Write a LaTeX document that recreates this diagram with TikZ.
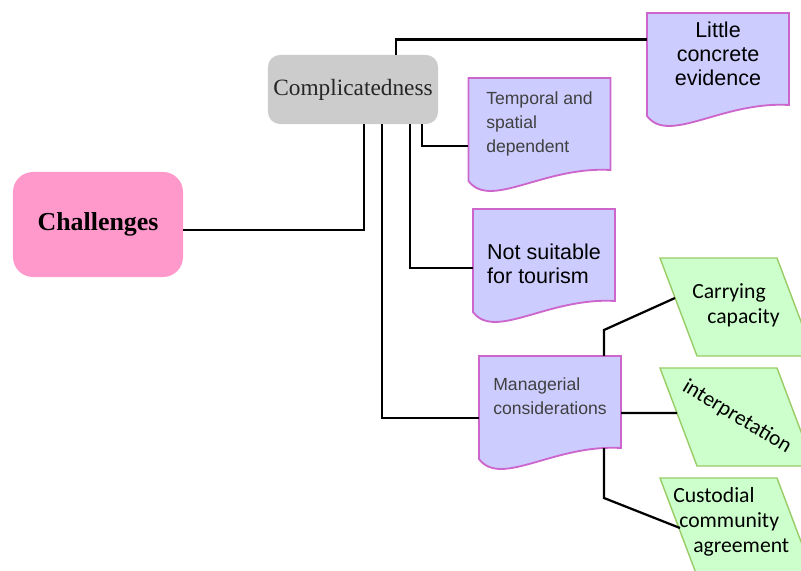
\documentclass[tikz,border=0pt]{standalone}
\usepackage{fontspec}
\setmainfont{Liberation Serif}
\newfontfamily\arialf{Liberation Sans}
\newfontfamily\calibf{Carlito}
\usetikzlibrary{calc,backgrounds}

\definecolor{pinkfill}{HTML}{FF99CC}
\definecolor{grayfill}{HTML}{CCCCCC}
\definecolor{docfill}{HTML}{CCCCFF}
\definecolor{docline}{HTML}{CC66CC}
\definecolor{parafill}{HTML}{CCFFCC}
\definecolor{paraline}{HTML}{99CC66}
\definecolor{softtext}{HTML}{404040}

% wavy "document" outline around a rectangular node
\newcommand\docoutline[1]{%
  \draw[docshape] (#1.north west) -- (#1.north east) -- (#1.south east)
    .. controls ($(#1.south west)+(75,-4)$) and ($(#1.south west)+(22,40)$) ..
    ($(#1.south west)+(0,11)$) -- cycle;}

\begin{document}
\begin{tikzpicture}[x=0.025cm,y=-0.025cm,
  link/.style={line width=1.6pt, black},
  docbox/.style={rectangle, minimum width=3.55cm, minimum height=2.3cm,
    inner sep=0pt, outer sep=0pt},
  docshape/.style={fill=docfill, draw=docline, line width=1.3pt},
  bigdoc/.style={font=\arialf\fontsize{15.3}{17}\selectfont, align=center},
  smalldoc/.style={font=\arialf\fontsize{12.5}{17}\selectfont, align=left, text=softtext},
  para/.style={fill=parafill, draw=paraline, line width=1pt},
  paratext/.style={font=\calibf\fontsize{15.4}{17.6}\selectfont, align=left, inner sep=0pt},
]
\useasboundingbox (0,0) rectangle (801,571);
\clip (0,0) rectangle (801,571);

% root and first-level node
\node[rectangle, rounded corners=0.5cm, fill=pinkfill, minimum width=4.25cm,
  minimum height=2.625cm, outer sep=0pt,
  font=\bfseries\fontsize{18.4}{22}\selectfont] (chal) at (98,224.5) {Challenges};
\node[rectangle, rounded corners=0.3cm, fill=grayfill, minimum width=4.25cm,
  minimum height=1.725cm, outer sep=0pt, text=black!85,
  font=\fontsize{16.6}{20}\selectfont] (comp) at (353,89.5) {Complicatedness};

% document-shaped nodes
\node[docbox, label={[bigdoc, yshift=0.125cm]center:{Little\\concrete\\evidence}}]
  (little) at (718,59) {};
\node[docbox, label={[smalldoc]center:{Temporal and\\spatial\\dependent}}]
  (temp) at (539.5,124) {};
\node[docbox, label={[bigdoc, align=left, yshift=-0.225cm]center:{Not suitable\\for tourism}}]
  (suit) at (544,255) {};
\node[docbox, label={[smalldoc, yshift=0.15cm]center:{Managerial\\considerations}}]
  (mgr) at (550,402) {};

\begin{scope}[on background layer]
  \docoutline{little}
  \docoutline{temp}
  \docoutline{suit}
  \docoutline{mgr}
  % parallelograms of the managerial branch
  \draw[para] (660,258) -- (777,258) -- (814,356) -- (697,356) -- cycle;
  \draw[para] (660,368) -- (777,368) -- (814,466) -- (697,466) -- cycle;
  \draw[para] (660,478) -- (777,478) -- (814,576) -- (697,576) -- cycle;
\end{scope}

\node[paratext, anchor=west] (carry) at (692,305)
  {Carrying\\\hspace*{0.375cm}capacity};
\node[paratext, rotate=-31] (interp) at (737,417) {interpretation};
\node[paratext, anchor=west] (cust) at (673,522)
  {Custodial\\\hspace*{0.15cm}community\\\hspace*{0.5cm}agreement};

\coordinate (carryin) at (675,298);
\coordinate (interpin) at (677,413);
\coordinate (custin) at (680,528);

% connectors
\draw[link] ([yshift=-0.1375cm]chal.east) -| ([xshift=0.275cm]comp.south);
\draw[link] ([xshift=1.075cm]comp.north) |- ([yshift=0.49cm]little.west);
\draw[link] ([xshift=1.725cm]comp.south) |- ([yshift=-0.55cm]temp.west);
\draw[link] ([xshift=1.425cm]comp.south) |- ([yshift=-0.325cm]suit.west);
\draw[link] ([xshift=0.725cm]comp.south) |- ([yshift=-0.4cm]mgr.west);
\draw[link] ([xshift=1.35cm]mgr.north) -- ++(0,-26) -- (carryin);
\draw[link] ([yshift=-0.275cm]mgr.east) -- (interpin);
\draw[link] ([xshift=1.35cm]mgr.south) -- ++(0,50) -- (custin);
\end{tikzpicture}
\end{document}
